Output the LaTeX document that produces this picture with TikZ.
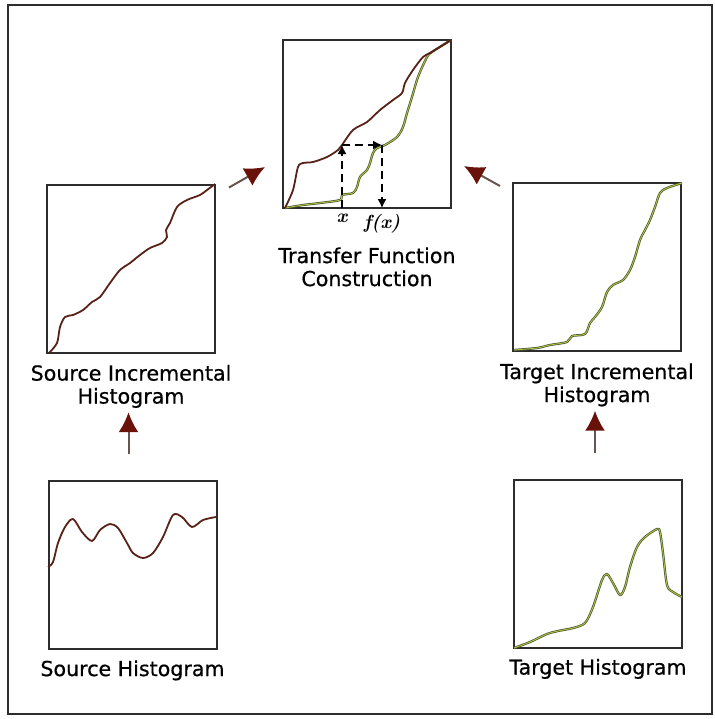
\documentclass[tikz,border=0pt]{standalone}
\usepackage{fontspec}
\newfontfamily\capfont[FakeBold=0.6]{DejaVu Sans}
\usetikzlibrary{arrows.meta,positioning}

\definecolor{srcbrown}{RGB}{88,34,24}
\definecolor{tgtgreen}{RGB}{175,195,70}
\definecolor{curveedge}{RGB}{70,85,45}
\definecolor{arrowred}{RGB}{105,18,10}
\definecolor{shaftgray}{RGB}{105,85,80}
\definecolor{framegray}{RGB}{45,45,45}

\begin{document}
\begin{tikzpicture}[
    x=0.5pt, y=-0.5pt, % one unit = one pixel, y going down
    plotbox/.style={
        draw=framegray,
        line width=1pt,
        minimum width=84pt,
        minimum height=84pt,
        inner sep=0pt
    },
    caption/.style={
        font=\capfont\fontsize{10.3}{11.5}\selectfont,
        align=center,
        inner sep=0pt
    },
    axislabel/.style={
        font=\bfseries\itshape\fontsize{9.5}{11}\selectfont,
        inner sep=0pt
    },
    srccurve/.style={draw=srcbrown, line width=0.9pt, line join=round},
    tgtcurve/.style={draw=curveedge, double=tgtgreen, double distance=0.45pt, line width=0.35pt, line join=round},
    flowarrow/.style={draw=shaftgray, line width=1pt, -{Latex[length=10pt,width=10pt,color=arrowred]}},
    mapping/.style={dash pattern=on 4pt off 2.5pt, line width=0.7pt, -{Latex[length=4.5pt,width=4.5pt]}}
]
\useasboundingbox (0,0) rectangle (714,719);
\draw[framegray, line width=1pt] (8,5) rectangle (712,714);

% --- NODES ---
\node[plotbox] (tf) at (367,124) {};
\node[plotbox] (srcinc) at (131,268.5) {};
\node[plotbox] (tgtinc) at (597,267) {};
\node[plotbox] (srchist) at (132.5,565) {};
\node[plotbox] (tgthist) at (598,563.5) {};

\node[caption, below=19pt of tf] (tflabel) {Transfer Function\\Construction};
\node[caption, below=5.5pt of srcinc] (srcinclabel) {Source Incremental\\Histogram};
\node[caption, below=5.5pt of tgtinc] (tgtinclabel) {Target Incremental\\Histogram};
\node[caption, below=5pt of srchist] (srchistlabel) {Source Histogram};
\node[caption, below=5pt of tgthist] (tgthistlabel) {Target Histogram};

% --- CURVES ---
% transfer function: both cumulative curves
\draw[tgtcurve] plot[smooth, tension=0.5] coordinates {(285,208) (303,205) (320,203) (340,200) (342,195) (353,193)
    (357,187) (360,177) (367,170) (370,163) (373,153) (377,148) (385,145) (397,137) (403,127) (407,113)
    (412,97) (418,77) (427,57) (432,52) (443,45) (451,40)};
\draw[srccurve] plot[smooth, tension=0.5] coordinates {(285,208) (293,190) (298,167) (303,163) (313,162) (327,157)
    (338,150) (342,145) (353,130) (367,122) (380,110) (393,100) (402,93) (405,83) (413,70) (423,57)
    (430,53) (443,45) (451,40)};

% source incremental
\draw[srccurve] plot[smooth, tension=0.5] coordinates {(49,353) (57,343) (60,327) (65,317) (73,315) (83,310)
    (92,302) (100,297) (110,283) (120,270) (130,263) (140,255) (150,248) (162,243) (167,237) (166,230)
    (170,223) (177,207) (187,200) (200,195) (207,190) (215,184)};

% target incremental
\draw[tgtcurve] plot[smooth, tension=0.5] coordinates {(514,350) (537,348) (550,345) (567,342) (572,336) (585,334)
    (590,323) (595,317) (602,307) (607,292) (613,285) (623,280) (630,270) (635,257) (640,240) (645,230)
    (650,220) (655,207) (660,193) (667,188) (682,183)};

% source histogram
\draw[srccurve] plot[smooth, tension=0.5] coordinates {(48,567) (53,562) (58,543) (65,527) (73,519) (82,532)
    (92,541) (100,530) (110,524) (118,528) (127,543) (133,553) (143,558) (153,553) (163,537) (173,515)
    (182,517) (192,527) (203,520) (216,517)};

% target histogram
\draw[tgtcurve] plot[smooth, tension=0.5] coordinates {(514,648) (530,642) (547,634) (558,631) (573,628) (585,623)
    (593,607) (602,580) (607,574) (613,583) (620,595) (625,587) (630,567) (637,547) (645,537) (657,529)
    (660,532) (663,553) (667,585) (673,592) (682,597)};

% --- MAPPING x -> f(x) ---
\coordinate (xbase) at (342,208);
\coordinate (xcurve) at (342,145);
\coordinate (fcurve) at (382,145);
\coordinate (fbase) at (382,208);
\draw[mapping] (xbase) -- (xcurve);
\draw[mapping] (xcurve) -- (fcurve);
\draw[mapping] (fcurve) -- (fbase);
\node[axislabel, below=3pt of xbase] (xlabel) {x};
\node[axislabel, below=3pt of fbase] (flabel) {f(x)};

% --- CONNECTIONS ---
\draw[flowarrow] ([shift={(13,4)}]srcinc.north east) -- ([shift={(-17,-42)}]tf.south west);
\draw[flowarrow] ([shift={(-12,4)}]tgtinc.north west) -- ([shift={(12,-43)}]tf.south east);
\draw[flowarrow, shorten <=13pt, shorten >=2pt] ([xshift=-2pt]srchist.north) -- ([xshift=-2pt]srchist.north |- srcinclabel.south);
\draw[flowarrow, shorten <=13pt, shorten >=2pt] ([xshift=-1.5pt]tgthist.north) -- ([xshift=-1.5pt]tgthist.north |- tgtinclabel.south);

\end{tikzpicture}
\end{document}
